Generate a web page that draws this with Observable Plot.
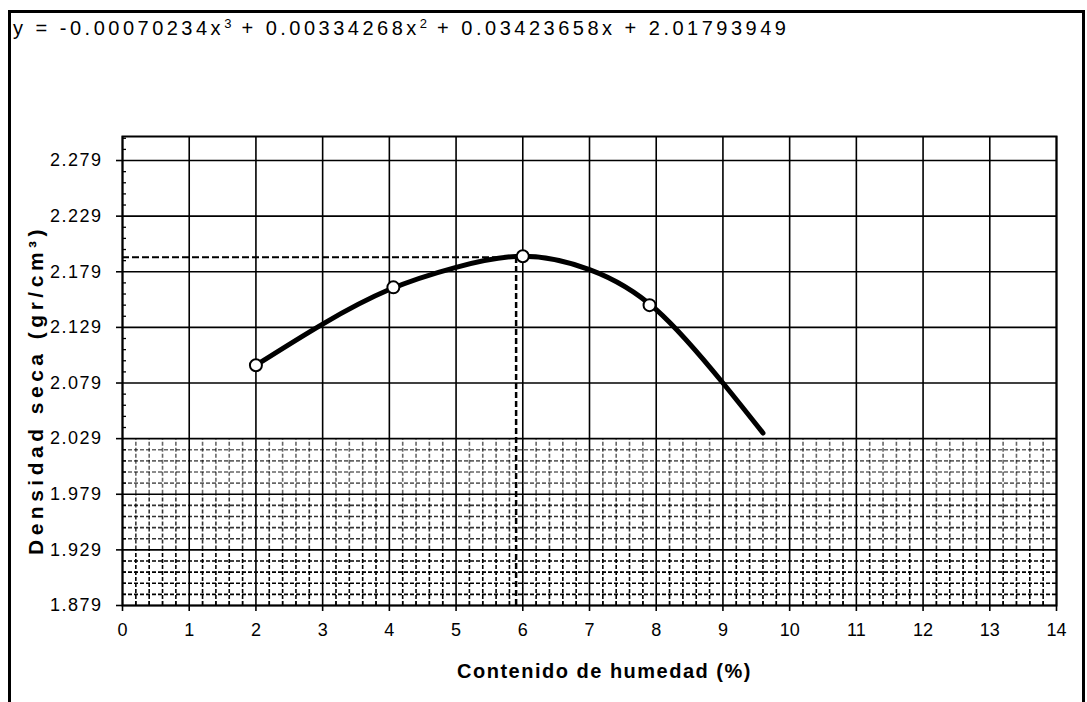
<!DOCTYPE html>
<html>
<head>
<meta charset="utf-8">
<script src="https://cdn.jsdelivr.net/npm/d3@7"></script>
<script src="https://cdn.jsdelivr.net/npm/@observablehq/plot@0.6"></script>
<style>
  body { margin: 0; background: #fff; }
  #wrap { position: relative; width: 1087px; height: 702px; overflow: hidden; font-family: "Liberation Sans", Arial, sans-serif; }
  #border { position: absolute; left: 8px; top: 10px; width: 1077px; height: 700px; border: 3px solid #000; box-sizing: border-box; pointer-events: none; }
  #eq { position: absolute; left: 13px; top: 17px; font-size: 20px; letter-spacing: 3.5px; word-spacing: 0px; color: #000; white-space: nowrap; }
  #eq sup { font-size: 13px; vertical-align: 7px; line-height: 0; letter-spacing: 1px; }
  #chart { position: absolute; left: 0; top: 0; }
  #chart svg g[aria-label="y-axis tick label"] text { letter-spacing: 1.5px; }
</style>
</head>
<body>
<div id="wrap">
  <div id="chart"></div>
  <div id="border"></div>
  <div id="eq">y = -0.00070234x<sup>3</sup> + 0.00334268x<sup>2</sup> + 0.03423658x + 2.01793949</div>
</div>
<script>
// Axis ticks
const xTicks = [0,1,2,3,4,5,6,7,8,9,10,11,12,13,14];
const yTicks = [1.879,1.929,1.979,2.029,2.079,2.129,2.179,2.229,2.279];
const yMax = 2.3006;

// Measured points (humedad %, densidad seca)
const pointX = [2.0, 4.06, 6.0, 7.9];
const pointY = [2.095, 2.165, 2.193, 2.149];

// Fitted curve
const curveX = [2.0, 3.0, 4.0, 5.0, 6.0, 7.0, 8.0, 9.0, 9.6];
const curveY = [2.095, 2.132, 2.163, 2.183, 2.193, 2.181, 2.145, 2.079, 2.034];

// Optimum (dashed guides)
const optX = 5.9;
const optY = 2.192;

const xLabel = "Contenido de humedad (%)";
const yLabel = "Densidad seca (gr/cm³)";

const points = pointX.map((x, i) => ({x, y: pointY[i]}));
const curve = curveX.map((x, i) => ({x, y: curveY[i]}));

// minor grid (visible in lower bands of the scan)
const minorX = d3.range(0, 70).map(i => +(i * 0.2).toFixed(1)).filter(v => Math.abs(v - Math.round(v)) > 1e-6);
const minorYAll = d3.range(0, 43).map(i => +(1.879 + i * 0.01).toFixed(3)).filter(v => v <= yMax);
const minorYLow = minorYAll.filter(v => v < 2.029 && !yTicks.includes(v));
const bands = [
  {y1: 1.879, y2: 1.929, o: 1},
  {y1: 1.929, y2: 1.979, o: 0.8},
  {y1: 1.979, y2: 2.029, o: 0.6}
];
const minorH = minorYLow.map(y => ({y, o: bands.find(b => y > b.y1 && y < b.y2).o}));
const minorV = [];
for (const b of bands) for (const x of minorX) minorV.push({x, y1: b.y1, y2: b.y2, o: b.o});
const minorTickY = minorYAll.filter(v => !yTicks.includes(v));

const chart = Plot.plot({
  width: 1087,
  height: 702,
  marginLeft: 122,
  marginRight: 31,
  marginTop: 136,
  marginBottom: 97,
  x: {domain: [0, 14]},
  y: {domain: [1.879, yMax]},
  style: {fontFamily: "'Liberation Sans', Arial, sans-serif", fontSize: "18px", color: "#000", background: "transparent"},
  marks: [
    Plot.ruleY(minorH, {y: "y", x1: 0, x2: 14, stroke: "#000", strokeOpacity: d => d.o, strokeWidth: 1.6, strokeDasharray: "4,2"}),
    Plot.ruleX(minorV, {x: "x", y1: "y1", y2: "y2", stroke: "#000", strokeOpacity: d => d.o, strokeWidth: 1.6, strokeDasharray: "4,2"}),
    Plot.gridX(xTicks, {stroke: "#000", strokeOpacity: 1, strokeWidth: 1.6}),
    Plot.gridY(yTicks, {stroke: "#000", strokeOpacity: 1, strokeWidth: 1.6}),
    Plot.frame({stroke: "#000", strokeWidth: 2}),
    Plot.axisX({ticks: xTicks, tickSize: 6, tickPadding: 12, tickFormat: d3.format("d"), label: null, strokeWidth: 1.6}),
    Plot.axisY({ticks: yTicks, tickSize: 6, tickPadding: 14, tickFormat: d3.format(".3f"), label: null, strokeWidth: 1.6}),
    Plot.axisX({ticks: minorX, tickSize: -4, tickFormat: () => "", label: null, strokeWidth: 1.3}),
    Plot.axisY({ticks: minorTickY, tickSize: -4, tickFormat: () => "", label: null, strokeWidth: 1.3}),
    Plot.ruleY([optY], {x1: 0, x2: optX, stroke: "#000", strokeWidth: 2, strokeDasharray: "7,3"}),
    Plot.ruleX([optX], {y1: 1.879, y2: optY, stroke: "#000", strokeWidth: 2.5, strokeDasharray: "6,3"}),
    Plot.line(curve, {x: "x", y: "y", curve: "natural", stroke: "#000", strokeWidth: 5}),
    Plot.dot(points, {x: "x", y: "y", r: 6, stroke: "#000", fill: "#fff", strokeWidth: 2}),
    Plot.text([xLabel], {frameAnchor: "bottom", dy: 72, dx: 15, fontWeight: "bold", fontSize: 20, fill: "#000"}),
    Plot.text([yLabel], {frameAnchor: "left", textAnchor: "middle", dx: -86, dy: 19, rotate: -90, fontWeight: "bold", fontSize: 21, fill: "#000"})
  ]
});
document.getElementById("chart").appendChild(chart);
// letter spacing on the axis labels (scan glyphs are widely spaced)
chart.querySelectorAll('g[aria-label="text"] text').forEach(t => {
  if (t.textContent === yLabel) t.style.letterSpacing = "4.5px";
  if (t.textContent === xLabel) t.style.letterSpacing = "1.5px";
});
</script>
</body>
</html>
